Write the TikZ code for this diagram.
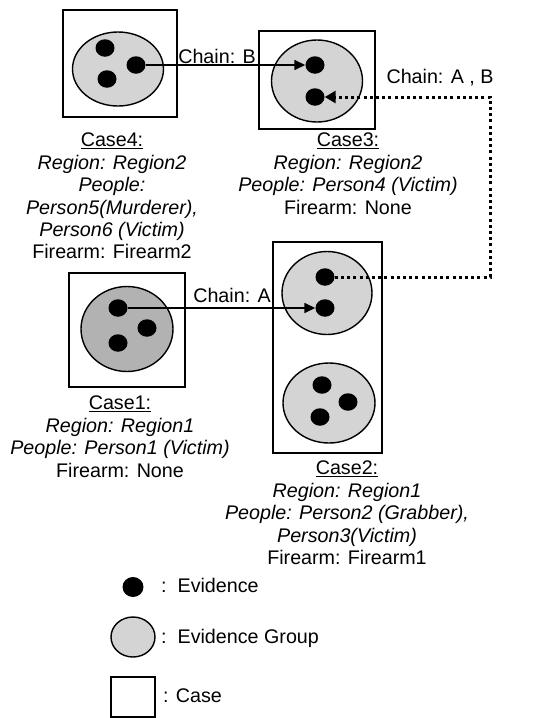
\documentclass[tikz,border=0pt]{standalone}
\usepackage{fontspec}
\setmainfont{Liberation Sans}
\usetikzlibrary{shapes.geometric,arrows.meta}
\definecolor{grp}{HTML}{D4D4D4}
\definecolor{grpdark}{HTML}{B2B2B2}
\begin{document}
\begin{tikzpicture}[x=1pt,y=-1pt,
  casebox/.style={draw,line width=2pt,rectangle,inner sep=0pt},
  group/.style={draw,line width=1.4pt,ellipse,fill=grp,inner sep=0pt},
  evid/.style={ellipse,fill=black,inner sep=0pt,minimum width=19pt,minimum height=17.5pt},
  info/.style={align=center,inner sep=0pt,anchor=north,font=\fontsize{19.7}{22.4}\selectfont},
  lbl/.style={inner sep=0pt,font=\fontsize{19.7}{24}\selectfont},
  chain/.style={line width=1.5pt,-{Triangle[length=11pt,width=10pt]}},
  dotline/.style={line width=3pt,dash pattern=on 3pt off 3.2pt,-{Triangle[length=11pt,width=12pt]}}]
\useasboundingbox (0,0) rectangle (540,718);
% Case4
\node[casebox,minimum width=114pt,minimum height=107pt] (case4) at (120,63.5) {};
\node[group,minimum width=91pt,minimum height=74pt] (g4) at (118,69) {};
\node[evid] (c4a) at (105,48) {};
\node[evid] (c4b) at (107,79) {};
\node[evid] (c4c) at (136,65) {};
% Case3
\node[casebox,minimum width=116pt,minimum height=98pt] (case3) at (317,80) {};
\node[group,minimum width=91pt,minimum height=82pt] (g3) at (317,81) {};
\node[evid] (c3a) at (315,65) {};
\node[evid] (c3b) at (315,97) {};
% Case1
\node[casebox,minimum width=116pt,minimum height=114pt] (case1) at (127,330) {};
\node[group,fill=grpdark,minimum width=92pt,minimum height=85pt] (g1) at (127,329) {};
\node[evid] (c1a) at (118,308) {};
\node[evid] (c1b) at (147,328) {};
\node[evid] (c1c) at (118,343) {};
% Case2
\node[casebox,minimum width=109pt,minimum height=211pt] (case2) at (327.5,347.5) {};
\node[group,minimum width=90pt,minimum height=83pt] (g2a) at (327,293) {};
\node[evid] (c2a) at (325,277) {};
\node[evid] (c2b) at (325,308) {};
\node[group,minimum width=92pt,minimum height=80pt] (g2b) at (329,403) {};
\node[evid] (c2c) at (322,385) {};
\node[evid] (c2d) at (348,402) {};
\node[evid] (c2e) at (320,417) {};
% chains
\draw[chain] (c4c.east) -- (c3a.west);
\node[lbl] (lb) at (217,56) {Chain: B};
\draw[chain] (c1a.east) -- (c2b.west);
\node[lbl] (la) at (232,295) {Chain: A};
\coordinate (turn) at (490,97);
\draw[dotline] (c2a.east) -| (turn) -- (c3b.east);
\node[lbl] (lab) at (440,78) {Chain: A , B};
% texts
\node[info] (t4) at (112,133) {\underline{Case4:}\\ \textit{Region: Region2}\\ \textit{People:}\\ \textit{Person5(Murderer),}\\ \textit{Person6 (Victim)}\\ Firearm: Firearm2};
\node[info] (t3) at (348,133) {\underline{Case3:}\\ \textit{Region: Region2}\\ \textit{People: Person4 (Victim)}\\ Firearm: None};
\node[info] (t1) at (120,396) {\underline{Case1:}\\ \textit{Region: Region1}\\ \textit{People: Person1 (Victim)}\\ Firearm: None};
\node[info] (t2) at (347,461) {\underline{Case2:}\\ \textit{Region: Region1}\\ \textit{People: Person2 (Grabber),}\\ \textit{Person3(Victim)}\\ Firearm: Firearm1};
% legend
\node[evid,minimum width=21pt,minimum height=20pt] (lgdot) at (133,587) {};
\node[lbl,anchor=base west] (lgdott) at (161,592) {:~~Evidence};
\node[group,minimum width=44pt,minimum height=40pt] (lggrp) at (133,637) {};
\node[lbl,anchor=base west] (lggrpt) at (161,643) {:~~Evidence Group};
\node[casebox,line width=1.6pt,minimum width=44pt,minimum height=40pt] (lgcase) at (133,697) {};
\node[lbl,anchor=base west] (lgcaset) at (163,702) {: Case};
\end{tikzpicture}
\end{document}
